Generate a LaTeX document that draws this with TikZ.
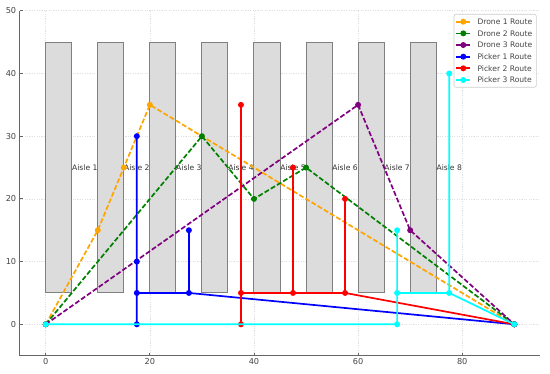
\documentclass[tikz,border=0pt]{standalone}
\usepackage{fontspec}
\setmainfont{DejaVu Sans}
\definecolor{dOrange}{HTML}{FFA500}
\definecolor{dGreen}{HTML}{008000}
\definecolor{dPurple}{HTML}{800080}
\definecolor{pBlue}{HTML}{0000FF}
\definecolor{pRed}{HTML}{FF0000}
\definecolor{pCyan}{HTML}{00FFFF}
\definecolor{shelfFill}{HTML}{DCDCDC}
\definecolor{shelfEdge}{HTML}{808080}
\definecolor{gridCol}{HTML}{E0E0E0}
\definecolor{spineCol}{HTML}{666666}
\definecolor{txtCol}{HTML}{444444}
\begin{document}
\begin{tikzpicture}[x=5.206pt,y=6.27pt,
  gridline/.style={draw=gridCol, line width=0.6pt, dash pattern=on 1.2pt off 1.2pt},
  spine/.style={draw=spineCol, line width=1.1pt},
  tickmark/.style={draw=spineCol, line width=0.8pt},
  ticklab/.style={inner sep=0pt, text=txtCol, font=\fontsize{8.2}{9}\selectfont},
  shelf/.style={fill=shelfFill, draw=shelfEdge, line width=1pt},
  aisle/.style={inner sep=0pt, text=black!80, font=\fontsize{7.6}{9}\selectfont},
  route/.style={line width=1.7pt, line join=round},
  droute/.style={route, dash pattern=on 5pt off 2.2pt},
  legbox/.style={fill=white, fill opacity=0.85, draw=black!20, line width=0.6pt, rounded corners=2pt},
  legtext/.style={inner sep=0pt, text=txtCol, font=\fontsize{7.6}{9}\selectfont}]
\useasboundingbox (-8.784,-7.927) rectangle (96.86,51.72);
% grid
\foreach \gx in {0,20,...,80} \draw[gridline] (\gx,-5) -- (\gx,50);
\foreach \gy in {0,10,...,50} \draw[gridline] (-5,\gy) -- (95,\gy);
% shelves
\foreach \s in {0,10,...,70} \draw[shelf] (\s,5) rectangle (\s+5,45);
% aisle labels
\foreach \i [evaluate=\i as \ax using 10*\i-2.5] in {1,...,8}
  \node[aisle] (aisle\i) at (\ax,25) {Aisle \i};
% Drone 1
\draw[droute, dOrange] (0,0) -- (10,15) -- (15,25) -- (20,35) -- (90,0);
\foreach \p in {(0,0),(10,15),(15,25),(20,35),(90,0)} \fill[dOrange] \p circle (3pt);
% Drone 2
\draw[droute, dGreen] (0,0) -- (30,30) -- (40,20) -- (50,25) -- (90,0);
\foreach \p in {(0,0),(30,30),(40,20),(50,25),(90,0)} \fill[dGreen] \p circle (3pt);
% Drone 3
\draw[droute, dPurple] (0,0) -- (60,35) -- (70,15) -- (90,0);
\foreach \p in {(0,0),(60,35),(70,15),(90,0)} \fill[dPurple] \p circle (3pt);
% Picker 1
\draw[route, pBlue] (17.5,0) -- (17.5,30) (17.5,5) -- (27.5,5) -- (27.5,15) (27.5,5) -- (90,0);
\foreach \p in {(17.5,0),(17.5,5),(17.5,10),(17.5,30),(27.5,5),(27.5,15),(90,0)} \fill[pBlue] \p circle (3pt);
% Picker 2
\draw[route, pRed] (37.5,0) -- (37.5,35) (37.5,5) -- (57.5,5) -- (90,0) (47.5,5) -- (47.5,25) (57.5,5) -- (57.5,20);
\foreach \p in {(37.5,0),(37.5,5),(37.5,35),(47.5,5),(47.5,25),(57.5,5),(57.5,20),(90,0)} \fill[pRed] \p circle (3pt);
% Picker 3
\draw[route, pCyan] (0,0) -- (67.5,0) -- (67.5,15) (67.5,5) -- (77.5,5) -- (77.5,40) (77.5,5) -- (90,0);
\foreach \p in {(0,0),(67.5,0),(67.5,5),(67.5,15),(77.5,5),(77.5,40),(90,0)} \fill[pCyan] \p circle (3pt);
% spines and ticks
\draw[spine] (-5,50) -- (-5,-5) -- (95,-5);
\foreach \gx in {0,20,...,80} {
  \draw[tickmark] (\gx,-5) -- ++(0,3pt);
  \node[ticklab, anchor=north] (xt\gx) at ([yshift=-2.8pt]\gx,-5) {\gx};
}
\foreach \gy in {0,10,...,50} {
  \draw[tickmark] (-5,\gy) -- ++(3pt,0);
  \node[ticklab, anchor=east] (yt\gy) at ([xshift=-3.3pt]-5,\gy) {\gy};
}
% legend (pixel coordinates)
\begin{scope}[shift={(-8.784,51.72)}]
  \draw[legbox] (454pt,-14.3pt) rectangle (536.3pt,-87.3pt);
  \foreach \c/\t [count=\k from 0] in {dOrange/{Drone 1 Route},dGreen/{Drone 2 Route},dPurple/{Drone 3 Route},pBlue/{Picker 1 Route},pRed/{Picker 2 Route},pCyan/{Picker 3 Route}} {
    \pgfmathsetmacro\ly{-(21.7+11.66*\k)}
    \draw[\c, line width=1.7pt] (456.3pt,\ly pt) -- (470.3pt,\ly pt);
    \fill[\c] (463.3pt,\ly pt) circle (3pt);
    \node[legtext, anchor=west] (leg\k) at (477.3pt,\ly pt) {\t};
  }
\end{scope}
\end{tikzpicture}
\end{document}
